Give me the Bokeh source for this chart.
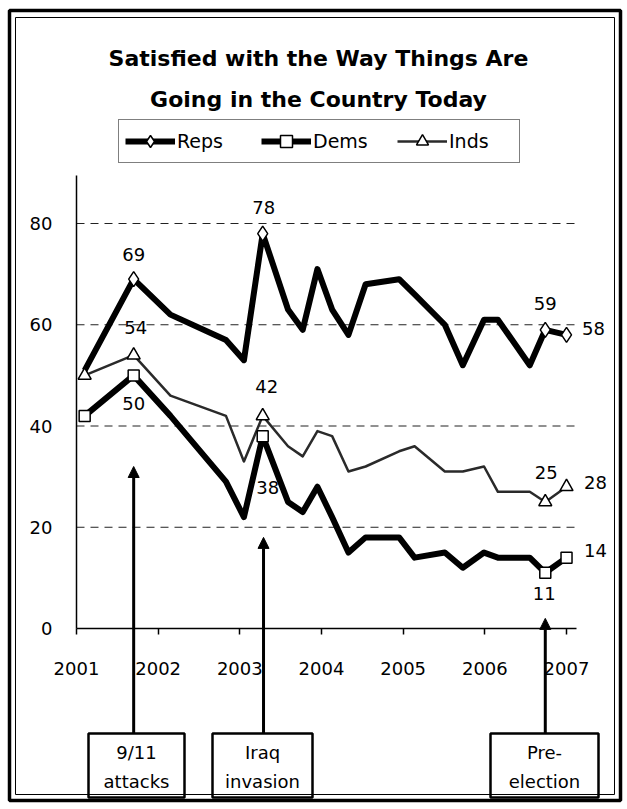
from bokeh.plotting import figure
from bokeh.models import (Range1d, FixedTicker, Label, Arrow, NormalHead,
                          BoxAnnotation, Legend, LegendItem, ColumnDataSource)
from bokeh.embed import file_html
from bokeh.resources import INLINE

# ---------------- data ----------------
dates = [2001.10, 2001.70, 2002.15, 2002.83, 2003.05, 2003.28, 2003.59, 2003.77,
         2003.95, 2004.13, 2004.33, 2004.54, 2004.95, 2005.14, 2005.51, 2005.73,
         2005.99, 2006.16, 2006.55, 2006.74, 2007.00]
reps = [51, 69, 62, 57, 53, 78, 63, 59, 71, 63, 58, 68, 69, 66, 60, 52, 61, 61, 52, 59, 58]
dems = [42, 50, 42, 29, 22, 38, 25, 23, 28, 22, 15, 18, 18, 14, 15, 12, 15, 14, 14, 11, 14]
inds = [50, 54, 46, 42, 33, 42, 36, 34, 39, 38, 31, 32, 35, 36, 31, 31, 32, 27, 27, 25, 28]

reps_marked = [1, 5, 19, 20]
dems_marked = [0, 1, 5, 19, 20]
inds_marked = [0, 1, 5, 19, 20]

year_ticks = [2001, 2002, 2003, 2004, 2005, 2006, 2007]
year_labels = ["2001", "2002", "2003", "2004", "2005", "2006", "2007"]
y_ticks = [0, 20, 40, 60, 80]
grid_ticks = [20, 40, 60, 80]

title_lines = ["Satisfied with the Way Things Are", "Going in the Country Today"]
series_names = ["Reps", "Dems", "Inds"]

# labelled points: (index, x offset px, y offset px)
reps_labels = [(1, 0, 25), (5, 1, 26), (19, 0, 26), (20, 27, 6)]
dems_labels = [(1, 0, -28), (5, 5, -51), (19, -1, -21), (20, 29, 7)]
inds_labels = [(1, 2, 28), (5, 4, 29), (19, 1, 29), (20, 29, 4)]

# events: (date, arrow tip value, box text)
event_dates = [2001.70, 2003.29, 2006.74]
event_tips = [32, 18, 2]
event_texts = [("9/11", "attacks"), ("Iraq", "invasion"), ("Pre-", "election")]

FONT = "DejaVu Sans"
W, H = 627, 809

# ---------------- geometry of the plotting area (layout only) ----------------
X0_PX, Y0_PX = 76, 628          # canvas position of (2001, 0)
PX_YEAR, PX_UNIT = 81.67, 5.0625
X_END = 2001 + 500 / PX_YEAR    # right end of the x axis
Y_END = (Y0_PX - 175) / PX_UNIT  # top end of the y axis

x_range = Range1d(2001 - X0_PX / PX_YEAR, 2001 + (W - X0_PX) / PX_YEAR)
y_range = Range1d(-(H - Y0_PX) / PX_UNIT, Y0_PX / PX_UNIT)

p = figure(width=W, height=H, output_backend="svg", toolbar_location=None,
           x_range=x_range, y_range=y_range,
           min_border=0, min_border_left=0, min_border_right=0,
           min_border_top=0, min_border_bottom=0,
           background_fill_color="white", border_fill_color="white",
           outline_line_color=None)

# axes (drawn at fixed locations inside the canvas)
p.xaxis.fixed_location = 0
p.xaxis.bounds = (2001, X_END)
p.xaxis.ticker = FixedTicker(ticks=year_ticks)
p.xaxis.major_label_overrides = {t: l for t, l in zip(year_ticks, year_labels)}
p.xaxis.minor_tick_line_color = None
p.xaxis.major_tick_in = 0
p.xaxis.major_tick_out = 6
p.xaxis.major_tick_line_color = "black"
p.xaxis.major_tick_line_width = 1.5
p.xaxis.axis_line_color = "black"
p.xaxis.axis_line_width = 1.5
p.xaxis.major_label_standoff = 27
p.xaxis.major_label_text_font = FONT
p.xaxis.major_label_text_font_size = "18px"
p.xaxis.major_label_text_color = "black"

p.yaxis.fixed_location = 2001
p.yaxis.bounds = (0, Y_END)
p.yaxis.ticker = FixedTicker(ticks=y_ticks)
p.yaxis.minor_tick_line_color = None
p.yaxis.major_tick_in = 0
p.yaxis.major_tick_out = 0
p.yaxis.axis_line_color = "black"
p.yaxis.axis_line_width = 1.5
p.yaxis.major_label_standoff = 24
p.yaxis.major_label_text_font = FONT
p.yaxis.major_label_text_font_size = "18px"
p.yaxis.major_label_text_color = "black"

p.xgrid.visible = False
p.ygrid.visible = False

# dashed gridlines spanning the x axis only
p.segment(x0=[2001] * len(grid_ticks), x1=[X_END] * len(grid_ticks),
          y0=grid_ticks, y1=grid_ticks, line_color="#222222", line_width=1,
          line_dash="8 6")

# ---------------- series ----------------
src = ColumnDataSource(dict(x=dates, reps=reps, dems=dems, inds=inds))

r_line = p.line("x", "reps", source=src, line_color="black", line_width=6, line_join="round")
d_line = p.line("x", "dems", source=src, line_color="black", line_width=6, line_join="round")
i_line = p.line("x", "inds", source=src, line_color="#2a2a2a", line_width=2.5, line_join="round")

r_mk = p.scatter([dates[i] for i in reps_marked], [reps[i] for i in reps_marked],
                 marker="diamond", size=15, fill_color="white", line_color="black", line_width=1.5)
d_mk = p.scatter([dates[i] for i in dems_marked], [dems[i] for i in dems_marked],
                 marker="square", size=11, fill_color="white", line_color="black", line_width=1.5)
i_mk = p.scatter([dates[i] for i in inds_marked], [inds[i] for i in inds_marked],
                 marker="triangle", size=13, fill_color="white", line_color="black", line_width=1.5)

legend = Legend(items=[LegendItem(label=series_names[0], renderers=[r_line, r_mk]),
                       LegendItem(label=series_names[1], renderers=[d_line, d_mk]),
                       LegendItem(label=series_names[2], renderers=[i_line, i_mk])],
                location=(118, H - 163), orientation="horizontal",
                label_text_font=FONT, label_text_font_size="19px", label_text_color="black",
                glyph_width=50, glyph_height=30, label_height=30, label_standoff=2,
                label_width=64, spacing=20, padding=6, margin=0,
                border_line_color="black", border_line_width=1,
                background_fill_color="white", background_fill_alpha=1)
p.add_layout(legend)

# data labels
for vals, specs in ((reps, reps_labels), (dems, dems_labels), (inds, inds_labels)):
    for idx, dx, dy in specs:
        p.add_layout(Label(x=dates[idx], y=vals[idx], x_offset=dx, y_offset=dy,
                           text=str(vals[idx]), text_align="center", text_baseline="middle",
                           text_font=FONT, text_font_size="18px", text_color="black"))

# title
for k, line in enumerate(title_lines):
    p.add_layout(Label(x=318, y=H - 58 - 41 * k, x_units="screen", y_units="screen",
                       text=line, text_align="center", text_baseline="middle",
                       text_font=FONT, text_font_size="22px", text_font_style="bold",
                       text_color="black"))

# event arrows and boxes
box_half = [48, 50, 54]
box_center_px = [136, 262, 544]
for d, tip, txt, hw, cx in zip(event_dates, event_tips, event_texts, box_half, box_center_px):
    p.add_layout(Arrow(end=NormalHead(size=11, fill_color="black", line_color="black"),
                       x_start=d, y_start=-(733 - Y0_PX) / PX_UNIT, x_end=d, y_end=tip,
                       line_color="black", line_width=3))
    p.add_layout(BoxAnnotation(left=cx - hw, right=cx + hw, top=H - 733, bottom=H - 797,
                               left_units="screen", right_units="screen",
                               top_units="screen", bottom_units="screen",
                               fill_color="white", fill_alpha=1,
                               line_color="black", line_width=2.5, line_alpha=1))
    for j, t in enumerate(txt):
        p.add_layout(Label(x=cx, y=H - 752 - 29 * j, x_units="screen", y_units="screen",
                           text=t, text_align="center", text_baseline="middle",
                           text_font=FONT, text_font_size="18px", text_color="black"))

# double frame border around the whole chart
p.add_layout(BoxAnnotation(left=9, right=620, top=H - 10, bottom=H - 800,
                           left_units="screen", right_units="screen",
                           top_units="screen", bottom_units="screen",
                           fill_alpha=0, line_color="black", line_width=3.5, line_alpha=1))
p.add_layout(BoxAnnotation(left=15, right=614, top=H - 17, bottom=H - 794,
                           left_units="screen", right_units="screen",
                           top_units="screen", bottom_units="screen",
                           fill_alpha=0, line_color="black", line_width=1, line_alpha=1))

open("out.html", "w").write(file_html(p, INLINE))
